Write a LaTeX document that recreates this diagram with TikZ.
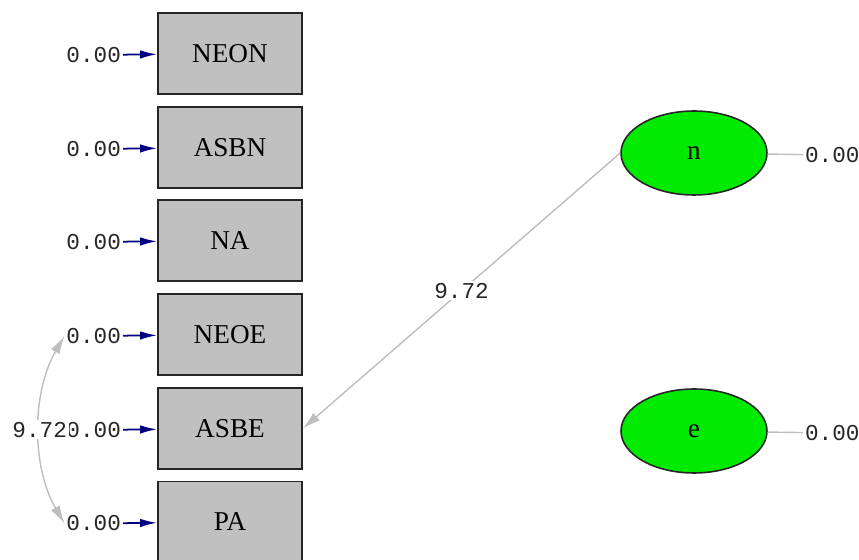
\documentclass[tikz,border=0pt]{standalone}
\usepackage{fontspec}
\setmainfont{Liberation Serif}
\newfontfamily\valfont{Liberation Mono}
\usetikzlibrary{arrows.meta,shapes.geometric}
\definecolor{boxgray}{RGB}{192,192,192}
\definecolor{latgreen}{RGB}{0,235,0}
\definecolor{errblue}{RGB}{0,0,128}
\definecolor{pathgray}{RGB}{190,190,190}

\begin{document}
\begin{tikzpicture}[x=0.02cm,y=-0.02cm,
	obs/.style={draw=black!85,line width=1pt,fill=boxgray,minimum width=2.88cm,minimum height=1.62cm,font=\fontsize{15.5}{18}\selectfont},
	lat/.style={ellipse,draw=black!85,line width=0.9pt,fill=latgreen,minimum width=2.92cm,minimum height=1.68cm,font=\fontsize{15.5}{18}\selectfont},
	val/.style={text=black!85,font=\valfont\fontsize{12.9}{15}\selectfont,inner sep=1pt},
	errarrow/.style={errblue,line width=1pt,-{Latex[length=0.34cm,width=0.17cm]}},
	gpath/.style={pathgray,line width=0.8pt,-{Latex[length=0.36cm,width=0.2cm]}}]
	\useasboundingbox (0,0) rectangle (859,560);
		\node[obs] (NEON) at (230,53.5) {NEON};
		\node[obs] (ASBN) at (230,147.5) {ASBN};
		\node[obs] (NA) at (230,240.5) {NA};
		\node[obs] (NEOE) at (230,334.5) {NEOE};
		\node[obs] (ASBE) at (230,428.5) {ASBE};
		\node[obs] (PA) at (230,522) {PA};
		\node[lat] (n) at (694,153) {n};
		\node[lat] (e) at (694,431) {e};
		\node[val,anchor=east] (vNEON) at (123,55) {0.00};
		\node[val,anchor=east] (vASBN) at (123,149) {0.00};
		\node[val,anchor=east] (vNA) at (123,242) {0.00};
		\node[val,anchor=east] (vNEOE) at (123,336) {0.00};
		\node[val,anchor=east] (vASBE) at (123,430) {0.00};
		\node[val,anchor=east] (vPA) at (123,523.5) {0.00};
		\node[val,anchor=west] (vn) at (803,155) {0.00};
		\node[val,anchor=west] (ve) at (803,433) {0.00};
		\draw[errarrow] (vNEON) -- (NEON);
		\draw[errarrow] (vASBN) -- (ASBN);
		\draw[errarrow] (vNA) -- (NA);
		\draw[errarrow] (vNEOE) -- (NEOE);
		\draw[errarrow] (vASBE) -- (ASBE);
		\draw[errarrow] (vPA) -- (PA);
		\draw[pathgray,line width=0.8pt] (n) -- (vn);
		\draw[pathgray,line width=0.8pt] (e) -- (ve);
		\draw[gpath] (n.west) -- node[val,fill=white] {9.72} (ASBE.east);
		\draw[gpath,{Latex[length=0.36cm,width=0.2cm]}-{Latex[length=0.36cm,width=0.2cm]}] (vNEOE.west) to[out=240,in=120,looseness=0.9] node[val,fill=white] {9.72} (vPA.west);
	\end{tikzpicture}
\end{document}
